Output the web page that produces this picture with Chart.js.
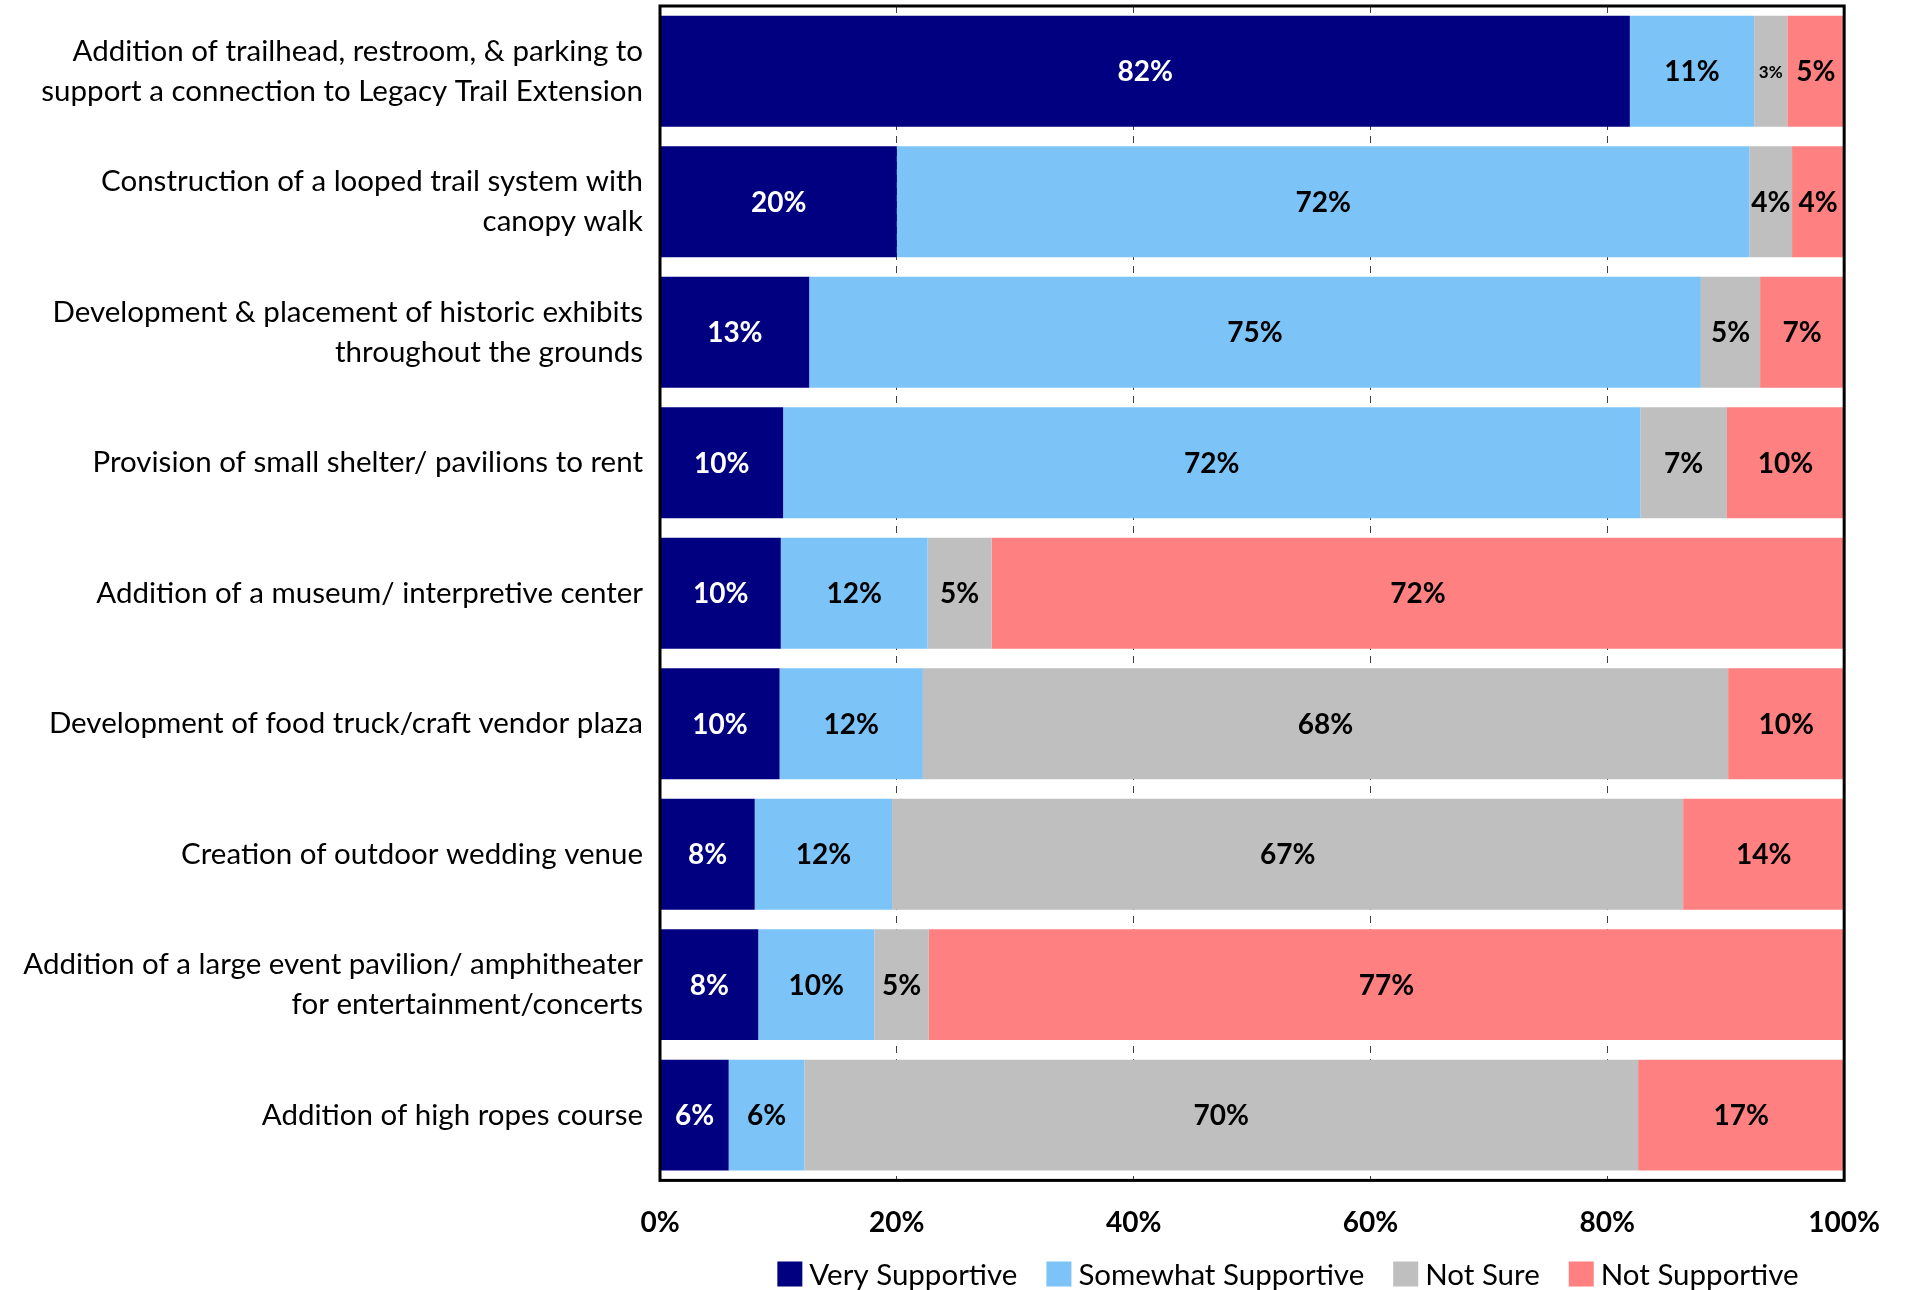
<!DOCTYPE html>
<html lang="en">
<head>
    <meta charset="UTF-8">
    <title>Support for proposed improvements</title>
    <script src="https://cdn.jsdelivr.net/npm/chart.js"></script>
    <style>
        html, body { margin: 0; padding: 0; background: #fff; }
        #wrap { width: 1906px; height: 1290px; position: relative; }
    </style>
</head>
<body>
    <div id="wrap"><canvas id="supportChart"></canvas></div>
    <script>
        const categories = [
            ["Addition of trailhead, restroom, & parking to", "support a connection to Legacy Trail Extension"],
            ["Construction of a looped trail system with", "canopy walk"],
            ["Development & placement of historic exhibits", "throughout the grounds"],
            "Provision of small shelter/ pavilions to rent",
            "Addition of a museum/ interpretive center",
            "Development of food truck/craft vendor plaza",
            "Creation of outdoor wedding venue",
            ["Addition of a large event pavilion/ amphitheater", "for entertainment/concerts"],
            "Addition of high ropes course"
        ];

        const verySupportive     = [81.9, 20.0, 12.6, 10.4, 10.2, 10.1, 8.0, 8.3, 5.8];
        const somewhatSupportive = [10.5, 72.0, 75.3, 72.4, 12.4, 12.1, 11.6, 9.8, 6.4];
        const notSure            = [2.8, 3.6, 5.0, 7.3, 5.4, 68.0, 66.8, 4.6, 70.4];
        const notSupportive      = [4.8, 4.4, 7.1, 9.9, 72.0, 9.8, 13.6, 77.3, 17.4];

        const xTicks = [0, 20, 40, 60, 80, 100];

        const seriesNames = ["Very Supportive", "Somewhat Supportive", "Not Sure", "Not Supportive"];
        const seriesColors = ["#000080", "#7CC3F8", "#BFBFBF", "#FF8080"];
        const labelColors = ["#ffffff", "#000000", "#000000", "#000000"];

        const FONT = "Lato, 'Open Sans', sans-serif";

        // percent text centred inside each segment
        const segmentLabels = {
            id: "segmentLabels",
            afterDatasetsDraw(chart) {
                const ctx = chart.ctx;
                ctx.save();
                ctx.textAlign = "center";
                ctx.textBaseline = "middle";
                chart.data.datasets.forEach((ds, i) => {
                    const meta = chart.getDatasetMeta(i);
                    meta.data.forEach((bar, j) => {
                        const p = bar.getProps(["x", "y", "base"], true);
                        const w = Math.abs(p.x - p.base);
                        const size = w < 40 ? 17 : 28;
                        ctx.font = "bold " + size + "px " + FONT;
                        ctx.fillStyle = labelColors[i];
                        ctx.fillText(Math.round(ds.data[j]) + "%", (p.x + p.base) / 2, p.y + 1);
                    });
                });
                ctx.restore();
            }
        };

        // black frame round the plot area
        const plotFrame = {
            id: "plotFrame",
            afterDraw(chart) {
                const a = chart.chartArea;
                const ctx = chart.ctx;
                ctx.save();
                ctx.strokeStyle = "#000";
                ctx.lineWidth = 3;
                ctx.strokeRect(a.left, a.top, a.right - a.left, a.bottom - a.top);
                ctx.restore();
            }
        };

        // legend below the axis
        const bottomLegend = {
            id: "bottomLegend",
            afterDraw(chart) {
                const ctx = chart.ctx;
                const box = 25, gapText = 7, gapItem = 29, y = 1274;
                ctx.save();
                ctx.font = "29.5px " + FONT;
                ctx.textBaseline = "middle";
                ctx.textAlign = "left";
                let total = 0;
                seriesNames.forEach((n, i) => {
                    total += box + gapText + ctx.measureText(n).width;
                    if (i < seriesNames.length - 1) total += gapItem;
                });
                let x = 1288 - total / 2;
                seriesNames.forEach((n, i) => {
                    ctx.fillStyle = seriesColors[i];
                    ctx.fillRect(x, y - box / 2, box, box);
                    x += box + gapText;
                    ctx.fillStyle = "#000";
                    ctx.fillText(n, x, y + 1);
                    x += ctx.measureText(n).width + gapItem;
                });
                ctx.restore();
            }
        };

        const seriesData = [verySupportive, somewhatSupportive, notSure, notSupportive];

        new Chart(document.getElementById("supportChart"), {
            type: "bar",
            data: {
                labels: categories,
                datasets: seriesNames.map((name, i) => ({
                    label: name,
                    data: seriesData[i],
                    backgroundColor: seriesColors[i],
                    borderWidth: 0,
                    categoryPercentage: 1,
                    barPercentage: 0.85
                }))
            },
            options: {
                indexAxis: "y",
                responsive: true,
                maintainAspectRatio: false,
                animation: false,
                layout: { padding: { top: 6, right: 60, bottom: 24, left: 0 } },
                plugins: {
                    legend: { display: false },
                    tooltip: { enabled: false }
                },
                scales: {
                    x: {
                        stacked: true,
                        min: 0,
                        max: 100,
                        afterBuildTicks(scale) {
                            scale.ticks = xTicks.map(v => ({ value: v }));
                        },
                        grid: {
                            color: "#404040",
                            lineWidth: 1,
                            drawTicks: false
                        },
                        border: { display: false, dash: [7, 6] },
                        ticks: {
                            padding: 26,
                            color: "#000",
                            font: { family: FONT, size: 28, weight: "bold" },
                            callback: v => v + "%"
                        }
                    },
                    y: {
                        stacked: true,
                        grid: { display: false },
                        border: { display: false },
                        afterFit(scale) {
                            scale.width = 660;
                            scale.paddingTop = 0;
                            scale.paddingBottom = 0;
                        },
                        ticks: {
                            padding: 9,
                            color: "#000",
                            font: { family: FONT, size: 29.5, lineHeight: 1.34 }
                        }
                    }
                }
            },
            plugins: [segmentLabels, plotFrame, bottomLegend]
        });
    </script>
</body>
</html>
